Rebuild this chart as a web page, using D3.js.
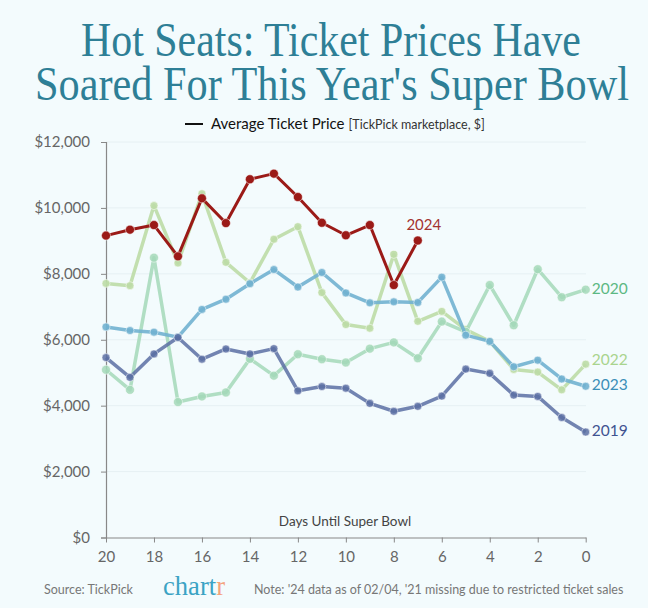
<!DOCTYPE html>
<html>
<head>
<meta charset="utf-8">
<script src="https://cdn.jsdelivr.net/npm/d3@7"></script>
<style>
  html, body { margin: 0; padding: 0; background: #f3fbfd; }
  svg { display: block; }
</style>
</head>
<body>
<script>
// ---- Data ----
const days = [20,19,18,17,16,15,14,13,12,11,10,9,8,7,6,5,4,3,2,1,0];
const yTicks = [0, 2000, 4000, 6000, 8000, 10000, 12000];
const xTicks = [20,18,16,14,12,10,8,6,4,2,0];
const price2024 = [9160,9340,9480,8530,10290,9540,10870,11040,10330,9550,9170,9480,7660,9010];
const price2023 = [6390,6280,6230,6080,6920,7230,7700,8130,7600,8040,7420,7120,7150,7130,7900,6140,5950,5180,5380,4810,4590];
const price2022 = [7710,7640,10070,8330,10430,8350,7730,9050,9430,7430,6460,6350,8590,6560,6860,6310,5950,5100,5020,4480,5260];
const price2020 = [5090,4480,8490,4110,4280,4400,5420,4910,5560,5410,5310,5730,5920,5440,6550,6240,7660,6440,8140,7290,7520];
const price2019 = [5460,4860,5570,6070,5410,5720,5570,5730,4450,4580,4530,4070,3830,3980,4290,5110,4980,4320,4280,3640,3200];
const seriesNames = ["2022","2020","2023","2019","2024"];

const W = 648, H = 608;
const svg = d3.select("body").append("svg").attr("width", W).attr("height", H);
svg.append("rect").attr("width", W).attr("height", H).attr("fill", "#f3fbfd");

const x = d3.scaleLinear().domain([20, 0]).range([106, 585.7]);
const y = d3.scaleLinear().domain([0, 12000]).range([537.5, 142]);

// Fit a text horizontally to a target width by scaling its group around a center
function fitGroup(g, textSel, cx, width) {
  const w = textSel.node().getComputedTextLength();
  const sx = width / w;
  g.attr("transform", `translate(${cx},0) scale(${sx},1)`);
}

// ---- Title ----
const titleColor = "#2e7f96";
const g1 = svg.append("g");
const t1 = g1.append("text").attr("x", 0).attr("y", 56).attr("text-anchor", "middle")
  .attr("font-family", "Liberation Serif").attr("font-size", 48).attr("fill", titleColor)
  .text("Hot Seats: Ticket Prices Have");
fitGroup(g1, t1, 331, 500);
const g2 = svg.append("g");
const t2 = g2.append("text").attr("x", 0).attr("y", 100).attr("text-anchor", "middle")
  .attr("font-family", "Liberation Serif").attr("font-size", 48).attr("fill", titleColor)
  .text("Soared For This Year's Super Bowl");
fitGroup(g2, t2, 332, 594);

// ---- Legend ----
svg.append("line").attr("x1", 185).attr("x2", 203).attr("y1", 124).attr("y2", 124)
  .attr("stroke", "#111").attr("stroke-width", 2);
const lg = svg.append("text").attr("x", 211).attr("y", 129).attr("font-family", "Lato")
  .attr("fill", "#111");
lg.append("tspan").attr("font-size", 15).text("Average Ticket Price");
lg.append("tspan").attr("font-size", 12.5).attr("fill", "#333").attr("dx", 4).text("[TickPick marketplace, $]");

// ---- Grid ----
svg.append("g").selectAll("line").data(yTicks.filter(d => d > 0)).join("line")
  .attr("x1", 106).attr("x2", 586).attr("y1", d => y(d)).attr("y2", d => y(d))
  .attr("stroke", "#e6f0f3").attr("stroke-width", 1);

// ---- Axes ----
const yAxis = svg.append("g").attr("transform", "translate(106,0)")
  .call(d3.axisLeft(y).tickValues(yTicks).tickFormat(d => "$" + d3.format(",")(d)).tickSize(5).tickPadding(11));
yAxis.select(".domain").attr("stroke", "#888").attr("stroke-width", 1.2);
yAxis.selectAll(".tick line").attr("stroke", "#888");
yAxis.selectAll("text").attr("font-family", "Lato").attr("font-size", 15).attr("fill", "#666");

const xAxis = svg.append("g").attr("transform", "translate(0,537.5)")
  .call(d3.axisBottom(x).tickValues(xTicks).tickSize(5).tickSizeOuter(0).tickPadding(9));
xAxis.select(".domain").attr("stroke", "#888").attr("stroke-width", 1.2);
xAxis.selectAll(".tick line").attr("stroke", "#888");
xAxis.selectAll("text").attr("font-family", "Lato").attr("font-size", 15).attr("fill", "#666");

svg.append("text").attr("x", 345).attr("y", 526).attr("text-anchor", "middle")
  .attr("font-family", "Lato").attr("font-size", 13.5).attr("fill", "#444")
  .text("Days Until Super Bowl");

// ---- Series ----
const series = {
  "2022": { data: price2022, color: "#bcdca6", label: "#a9d48e", width: 3.5, r: 4, op: 0.9 },
  "2020": { data: price2020, color: "#a3d8b9", label: "#5cb883", width: 3.5, r: 4.5, op: 0.85 },
  "2023": { data: price2023, color: "#71b1d0", label: "#3b8fb8", width: 3.5, r: 4, op: 0.9 },
  "2019": { data: price2019, color: "#5a6ea3", label: "#3f5391", width: 3.5, r: 4, op: 0.85 },
  "2024": { data: price2024, color: "#9b1a17", label: "#a33330", width: 3, r: 4.5, op: 1 }
};

const line = d3.line().x(d => x(d.day)).y(d => y(d.v));

seriesNames.forEach(name => {
  const s = series[name];
  const pts = s.data.map((v, i) => ({ day: days[i], v }));
  const g = svg.append("g");
  g.append("path").datum(pts).attr("d", line).attr("fill", "none")
    .attr("stroke", s.color).attr("stroke-width", s.width).attr("stroke-opacity", s.op)
    .attr("stroke-linejoin", "round");
  g.selectAll("circle").data(pts).join("circle")
    .attr("cx", d => x(d.day)).attr("cy", d => y(d.v)).attr("r", s.r)
    .attr("fill", s.color).attr("fill-opacity", s.op)
    .attr("stroke", "#ffffff").attr("stroke-opacity", 0.5).attr("stroke-width", 1);
  const last = pts[pts.length - 1];
  if (name === "2024") {
    g.append("text").attr("x", x(last.day) + 6).attr("y", y(last.v) - 11)
      .attr("text-anchor", "middle").attr("font-family", "Lato").attr("font-size", 15)
      .attr("fill", s.label).text(name);
  } else {
    const dy = name === "2022" ? -3 : 0;
    g.append("text").attr("x", x(last.day) + 6).attr("y", y(last.v) + dy)
      .attr("dominant-baseline", "middle").attr("font-family", "Lato").attr("font-size", 15.5)
      .attr("fill", s.label).text(name);
  }
});

// ---- Footer ----
svg.append("text").attr("x", 44).attr("y", 594).attr("font-family", "Lato").attr("font-size", 12.5)
  .attr("fill", "#777").text("Source: TickPick");
const lgG = svg.append("g");
const logo = lgG.append("text").attr("x", 0).attr("y", 595).attr("text-anchor", "middle")
  .attr("font-family", "Liberation Serif").attr("font-size", 28).attr("fill", "#3ba3c4");
logo.append("tspan").text("chart");
logo.append("tspan").attr("fill", "#f4a27c").text("r");
fitGroup(lgG, logo, 194, 62);
svg.append("text").attr("x", 254).attr("y", 594).attr("font-family", "Lato").attr("font-size", 12.5)
  .attr("fill", "#777").text("Note: '24 data as of 02/04, '21 missing due to restricted ticket sales");
</script>
</body>
</html>
